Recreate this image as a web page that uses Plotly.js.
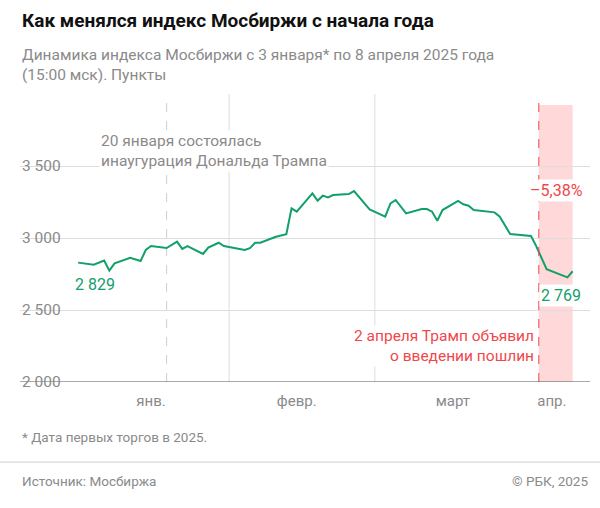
<!DOCTYPE html>
<html>
<head>
<meta charset="utf-8">
<script src="https://cdn.plot.ly/plotly-3.0.1.min.js"></script>
<style>body{margin:0;background:#fff}#chart{width:600px;height:508px}</style>
</head>
<body>
<div id="chart"></div>
<script>
var dates = ['2025-01-03','2025-01-06','2025-01-08','2025-01-09','2025-01-10','2025-01-13','2025-01-15','2025-01-16','2025-01-17',
  '2025-01-20','2025-01-22','2025-01-23','2025-01-24','2025-01-27','2025-01-28','2025-01-30','2025-01-31','2025-02-04','2025-02-05',
  '2025-02-06','2025-02-07','2025-02-10','2025-02-12','2025-02-13','2025-02-14','2025-02-17','2025-02-18','2025-02-19','2025-02-20',
  '2025-02-21','2025-02-24','2025-02-25','2025-02-28','2025-03-03','2025-03-04','2025-03-05','2025-03-07','2025-03-10','2025-03-11',
  '2025-03-12','2025-03-13','2025-03-14','2025-03-17','2025-03-18','2025-03-19','2025-03-20','2025-03-24','2025-03-25','2025-03-27',
  '2025-03-31','2025-04-01','2025-04-03','2025-04-07','2025-04-08']
var values = [2829,2815,2843,2773,2824,2863,2840,2917,2944,
  2930,2975,2924,2944,2889,2933,2967,2944,2917,2930,
  2967,2967,3009,3026,3206,3183,3310,3259,3294,3282,
  3298,3305,3326,3199,3148,3241,3264,3171,3201,3201,
  3183,3120,3194,3257,3234,3224,3194,3178,3148,3028,
  3014,2944,2783,2727,2769]
var monthStarts = ['2025-02-01','2025-03-01']
var tickDates = ['2025-01-17','2025-02-14','2025-03-16','2025-04-04']
var tickLabels = ['янв.','февр.','март','апр.']
var yTicks = [2000,2500,3000,3500]
var yLabels = ['2 000','2 500','3 000','3 500']

var green = '#12a06a', red = '#f0474b', grey = '#8a8a8a'
var font = 'Roboto, "Noto Sans", sans-serif'

var shapes = [
  {type:'rect', xref:'x', yref:'y', x0:'2025-04-01 12:00', x1:'2025-04-08', y0:2000, y1:3924,
   fillcolor:'#ffd9d9', line:{width:0}, layer:'below'},
  {type:'line', xref:'x', yref:'y', x0:'2025-01-20', x1:'2025-01-20', y0:2000, y1:4000,
   line:{color:'#cfcfcf', width:1, dash:'dash'}, layer:'below'},
  {type:'line', xref:'x', yref:'y', x0:'2025-04-01 12:00', x1:'2025-04-01 12:00', y0:2000, y1:4000,
   line:{color:red, width:1, dash:'dash'}},
  {type:'line', xref:'paper', yref:'paper', x0:-0.04, x1:1.02, y0:-0.278, y1:-0.278,
   line:{color:'#cccccc', width:1}},
  {type:'line', xref:'paper', yref:'y', x0:0, x1:1, y0:2000, y1:2000,
   line:{color:'#555', width:1}}
]
monthStarts.forEach(function(d) {
  shapes.push({type:'line', xref:'x', yref:'y', x0:d, x1:d, y0:2000, y1:4000,
    line:{color:'#dddddd', width:1}, layer:'below'})
})

var annotations = [
  {xref:'paper', yref:'paper', x:-0.0, y:1.255, xanchor:'left', yanchor:'middle', showarrow:false,
   text:'<b>Как менялся индекс Мосбиржи с начала года</b>', font:{size:19, color:'#111', family:font}},
  {xref:'paper', yref:'paper', x:-0.0, y:1.1, xanchor:'left', yanchor:'middle', showarrow:false, align:'left',
   text:'Динамика индекса Мосбиржи с 3 января* по 8 апреля 2025 года<br>(15:00 мск). Пункты',
   font:{size:15.5, color:grey, family:font}},
  {xref:'x', yref:'y', x:'2025-01-07', y:3605, xanchor:'left', yanchor:'middle', showarrow:false, align:'left',
   text:'20 января состоялась<br>инаугурация Дональда Трампа', bgcolor:'#fff',
   font:{size:15.5, color:grey, family:font}},
  {xref:'x', yref:'y', x:'2025-03-30 12:00', y:3330, xanchor:'left', yanchor:'middle', showarrow:false,
   text:'–5,38%', bgcolor:'#fff', font:{size:16, color:red, family:font}},
  {xref:'x', yref:'y', x:'2025-01-02', y:2680, xanchor:'left', yanchor:'middle', showarrow:false,
   text:'2 829', font:{size:16, color:green, family:font}},
  {xref:'x', yref:'y', x:'2025-04-01 12:00', y:2600, xanchor:'left', yanchor:'middle', showarrow:false,
   text:'2 769', bgcolor:'#fff', font:{size:16, color:green, family:font}},
  {xref:'x', yref:'y', x:'2025-04-01', y:2250, xanchor:'right', yanchor:'middle', showarrow:false, align:'right',
   text:'2 апреля Трамп объявил<br>о введении пошлин', bgcolor:'#fff',
   font:{size:15.5, color:red, family:font}},
  {xref:'paper', yref:'paper', x:-0.0, y:-0.19, xanchor:'left', yanchor:'middle', showarrow:false,
   text:'* Дата первых торгов в 2025.', font:{size:13.5, color:grey, family:font}},
  {xref:'paper', yref:'paper', x:-0.0, y:-0.345, xanchor:'left', yanchor:'middle', showarrow:false,
   text:'Источник: Мосбиржа', font:{size:13.5, color:grey, family:font}},
  {xref:'paper', yref:'paper', x:1.0, y:-0.345, xanchor:'right', yanchor:'middle', showarrow:false,
   text:'© РБК, 2025', font:{size:13.5, color:grey, family:font}}
]
yTicks.forEach(function(v, i) {
  annotations.push({xref:'paper', yref:'y', x:0.0, y:v, xanchor:'left', yanchor:'middle', showarrow:false,
    text:yLabels[i], font:{size:15.5, color:grey, family:font}})
})

Plotly.newPlot('chart', [{
  x: dates, y: values, type:'scatter', mode:'lines',
  line:{color:green, width:2}, hoverinfo:'skip'
}], {
  width:600, height:508,
  margin:{l:20, r:10, t:94, b:126},
  paper_bgcolor:'#fff', plot_bgcolor:'#fff',
  showlegend:false,
  font:{family:font},
  xaxis:{
    type:'date', range:['2024-12-22 20:00','2025-04-11 08:00'],
    showgrid:false, zeroline:false, showline:false,
    tickvals:tickDates, ticktext:tickLabels, ticks:'', ticklabelstandoff:8,
    tickfont:{size:15, color:grey}
  },
  yaxis:{
    range:[2000,4000], tickvals:yTicks, showticklabels:false,
    gridcolor:'#dddddd', zeroline:false, showline:false
  },
  shapes: shapes,
  annotations: annotations
}, {displayModeBar:false, staticPlot:true})
</script>
</body>
</html>
